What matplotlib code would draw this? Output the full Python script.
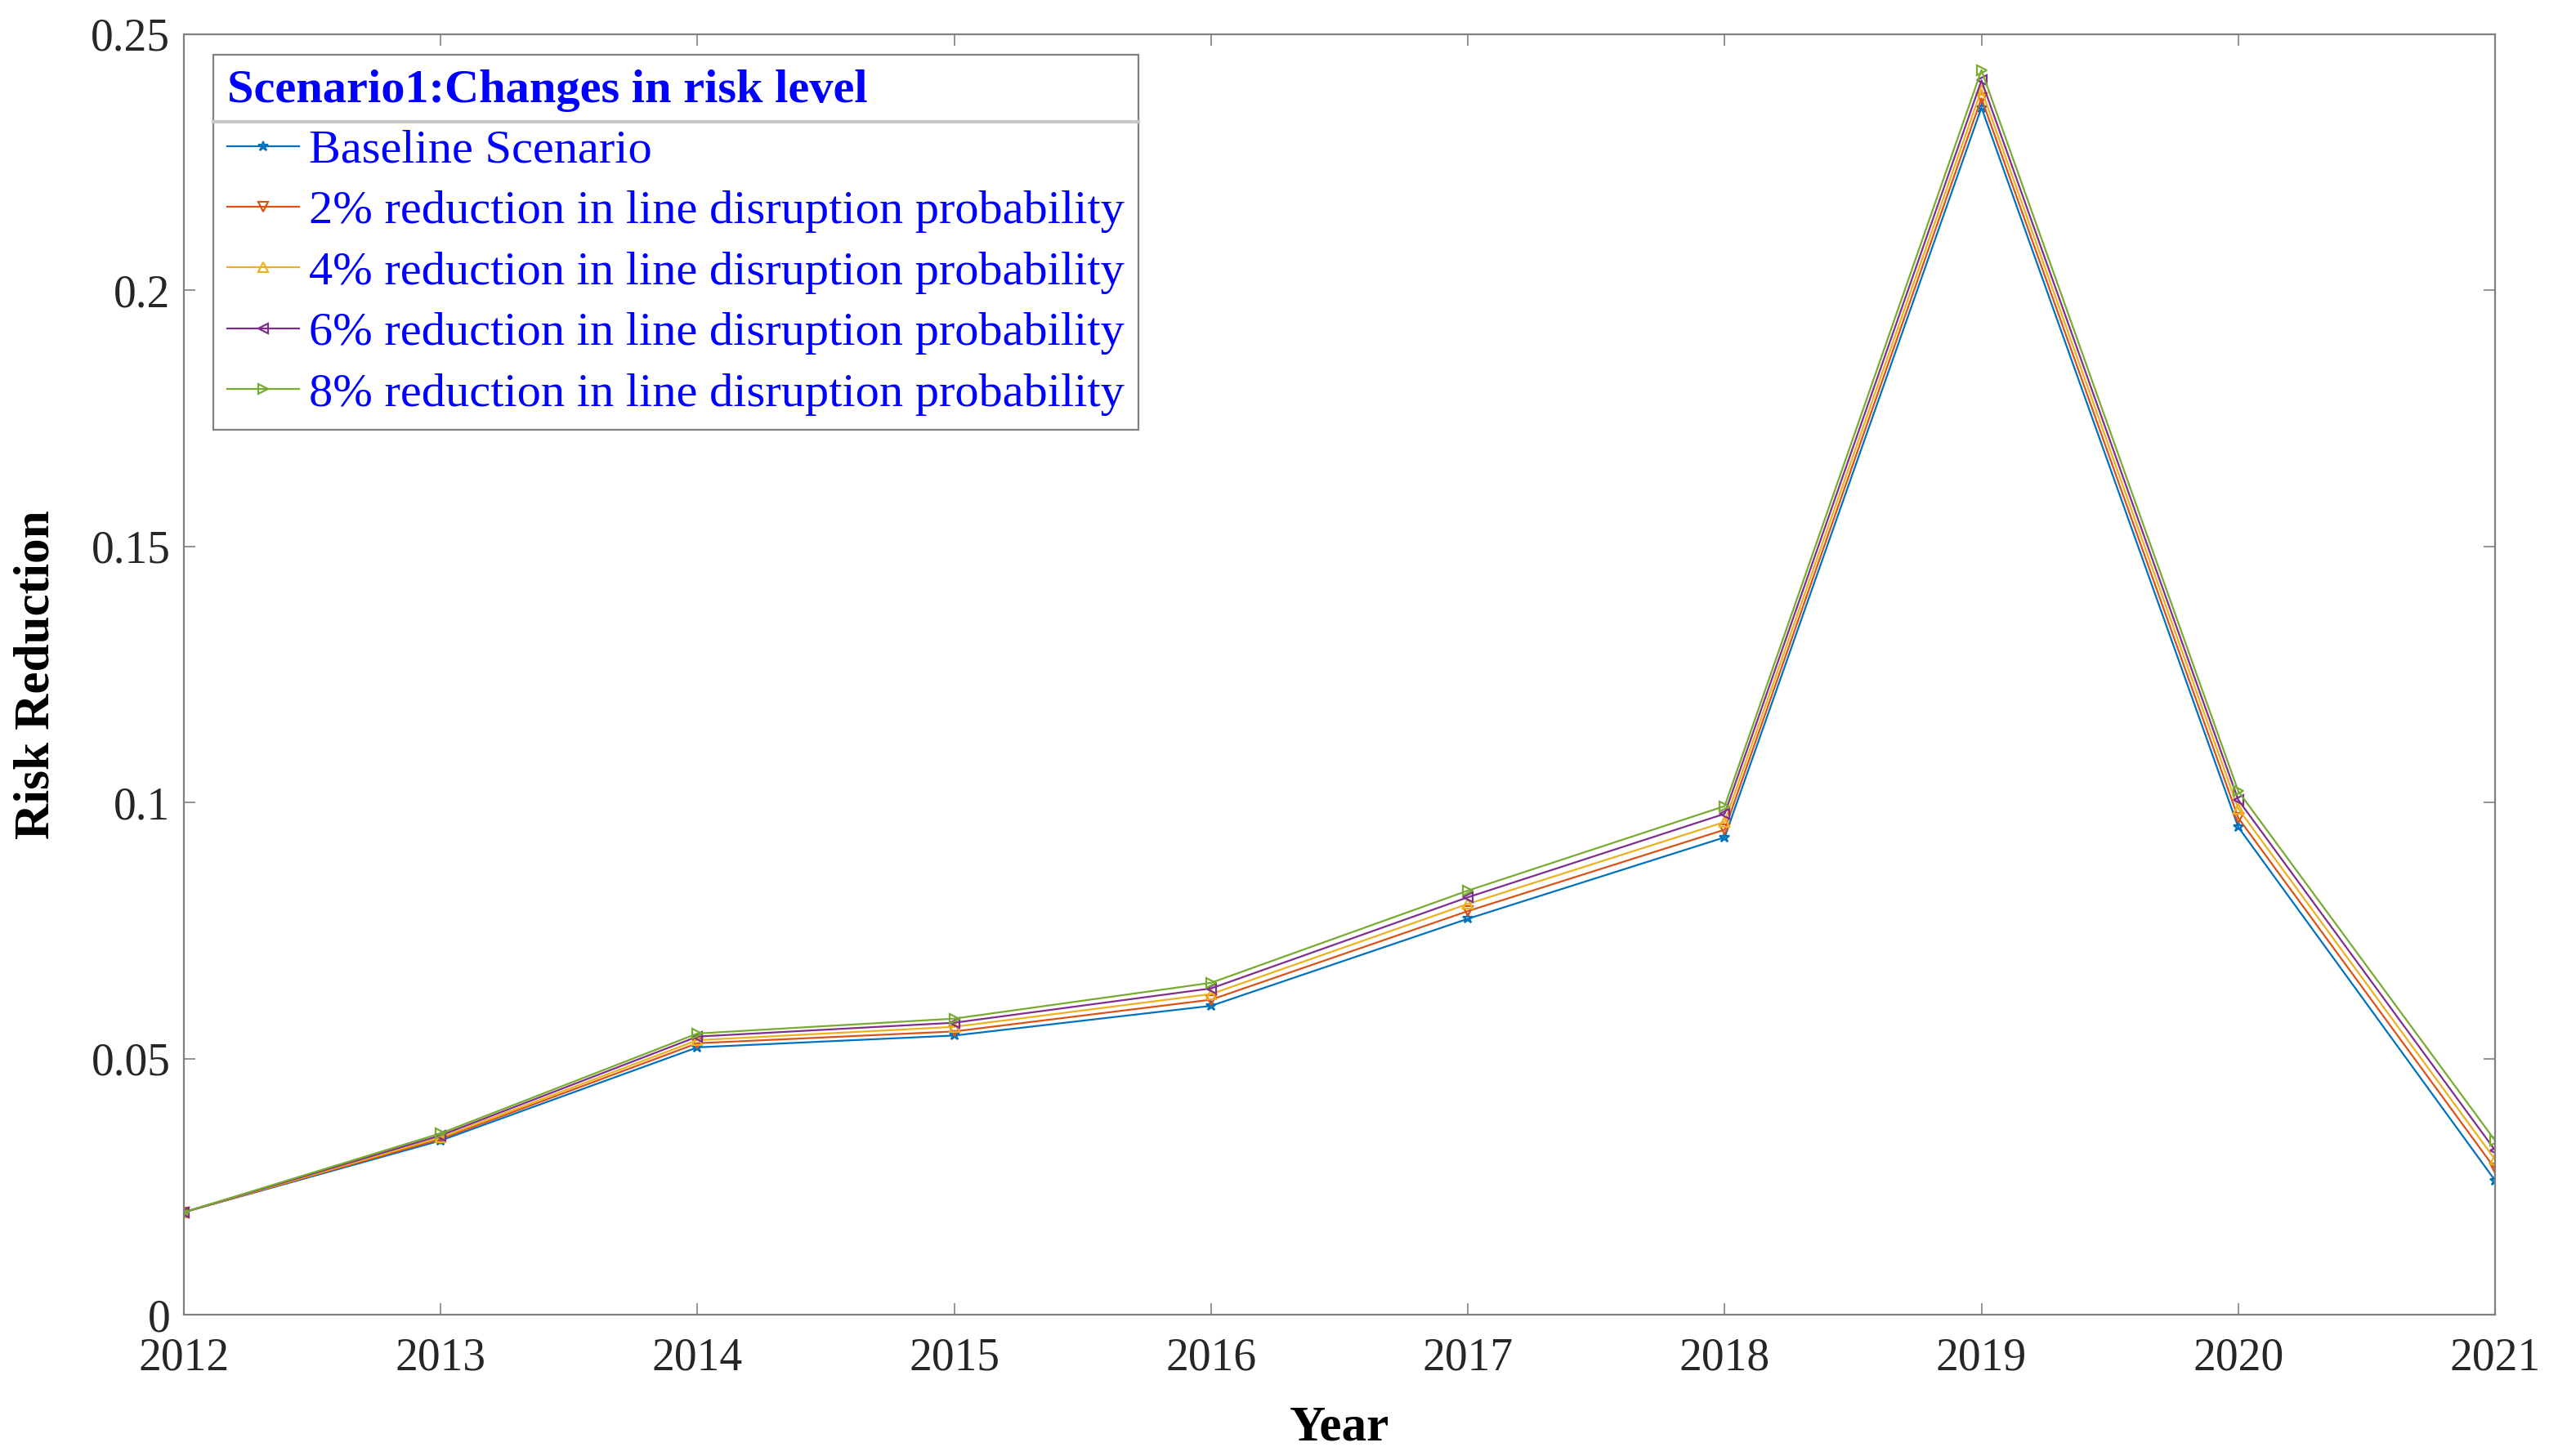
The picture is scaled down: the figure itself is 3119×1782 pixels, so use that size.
import numpy as np
import matplotlib
matplotlib.use("Agg")
from matplotlib import pyplot as plt
from matplotlib.lines import Line2D

# data
years = [2012, 2013, 2014, 2015, 2016, 2017, 2018, 2019, 2020, 2021]
baseline = [0.0200, 0.0340, 0.0522, 0.0545, 0.0603, 0.0773, 0.0932, 0.2357, 0.0952, 0.0262]
red_2pct = [0.0200, 0.0343, 0.0530, 0.0553, 0.0615, 0.0788, 0.0947, 0.2375, 0.0970, 0.0285]
red_4pct = [0.0200, 0.0346, 0.0536, 0.0562, 0.0626, 0.0802, 0.0962, 0.2392, 0.0988, 0.0303]
red_6pct = [0.0200, 0.0350, 0.0543, 0.0570, 0.0637, 0.0815, 0.0978, 0.2410, 0.1005, 0.0321]
red_8pct = [0.0200, 0.0354, 0.0549, 0.0578, 0.0648, 0.0828, 0.0993, 0.2430, 0.1022, 0.0340]

labels = ["Baseline Scenario",
          "2% reduction in line disruption probability",
          "4% reduction in line disruption probability",
          "6% reduction in line disruption probability",
          "8% reduction in line disruption probability"]
yticks = [0, 0.05, 0.1, 0.15, 0.2, 0.25]
ytick_labels = ["0", "0.05", "0.1", "0.15", "0.2", "0.25"]

# matlab default colors and markers
colors = ["#0072BD", "#D95319", "#EDB120", "#7E2F8E", "#77AC30"]
markers = ["*", "v", "^", "<", ">"]

plt.rcParams["font.family"] = ["Liberation Serif", "DejaVu Serif"]

fig = plt.figure(figsize=(15.595, 8.91), dpi=200)
ax = fig.add_axes([225 / 3119, 1 - 1609 / 1782, (3053 - 225) / 3119, (1609 - 42) / 1782])

series = [baseline, red_2pct, red_4pct, red_6pct, red_8pct]
for vals, c, m, lab in zip(series, colors, markers, labels):
    ax.plot(years, vals, color=c, marker=m, markersize=4.5, markerfacecolor="none",
            markeredgewidth=0.8, linewidth=0.8, label=lab)

ax.set_xlim(2012, 2021)
ax.set_ylim(0, 0.25)
ax.set_xticks(years)
ax.set_yticks(yticks)
ax.set_yticklabels(ytick_labels)
ax.tick_params(direction="in", top=True, right=True, length=5, width=0.6,
               colors="#808080", labelcolor="#262626", labelsize=20, pad=6)
ax.tick_params(axis="x", pad=10)
for s in ax.spines.values():
    s.set_color("#808080")
    s.set_linewidth(0.8)

ax.set_xlabel("Year", fontsize=22, fontweight="bold", labelpad=11)
ax.set_ylabel("Risk Reduction", fontsize=22, fontweight="bold", labelpad=14)

leg = ax.legend(title="Scenario1:Changes in risk level", loc="upper left",
                bbox_to_anchor=(0.0127, 0.984), fontsize=21, frameon=True, fancybox=False,
                handlelength=1.5, handletextpad=0.2, borderpad=0.3, labelspacing=0.37,
                borderaxespad=0.0)
leg.get_title().set_fontsize(21)
leg.get_title().set_fontweight("bold")
leg.get_title().set_color("#0000FF")
leg._legend_box.align = "left"
for t in leg.get_texts():
    t.set_color("#0000FF")
frame = leg.get_frame()
frame.set_edgecolor("#808080")
frame.set_linewidth(0.8)
frame.set_alpha(1)

# separator line under the legend title
fig.canvas.draw()
fb = frame.get_window_extent()
tb = leg.get_title().get_window_extent()
inv = fig.transFigure.inverted()
x0, y_sep = inv.transform((fb.x0, tb.y0 - 12))
x1, _ = inv.transform((fb.x1, tb.y0 - 12))
fig.add_artist(Line2D([x0, x1], [y_sep, y_sep], transform=fig.transFigure,
                      color="#c8c8c8", linewidth=1.5, zorder=10))

fig.savefig("out.png", dpi=200)
